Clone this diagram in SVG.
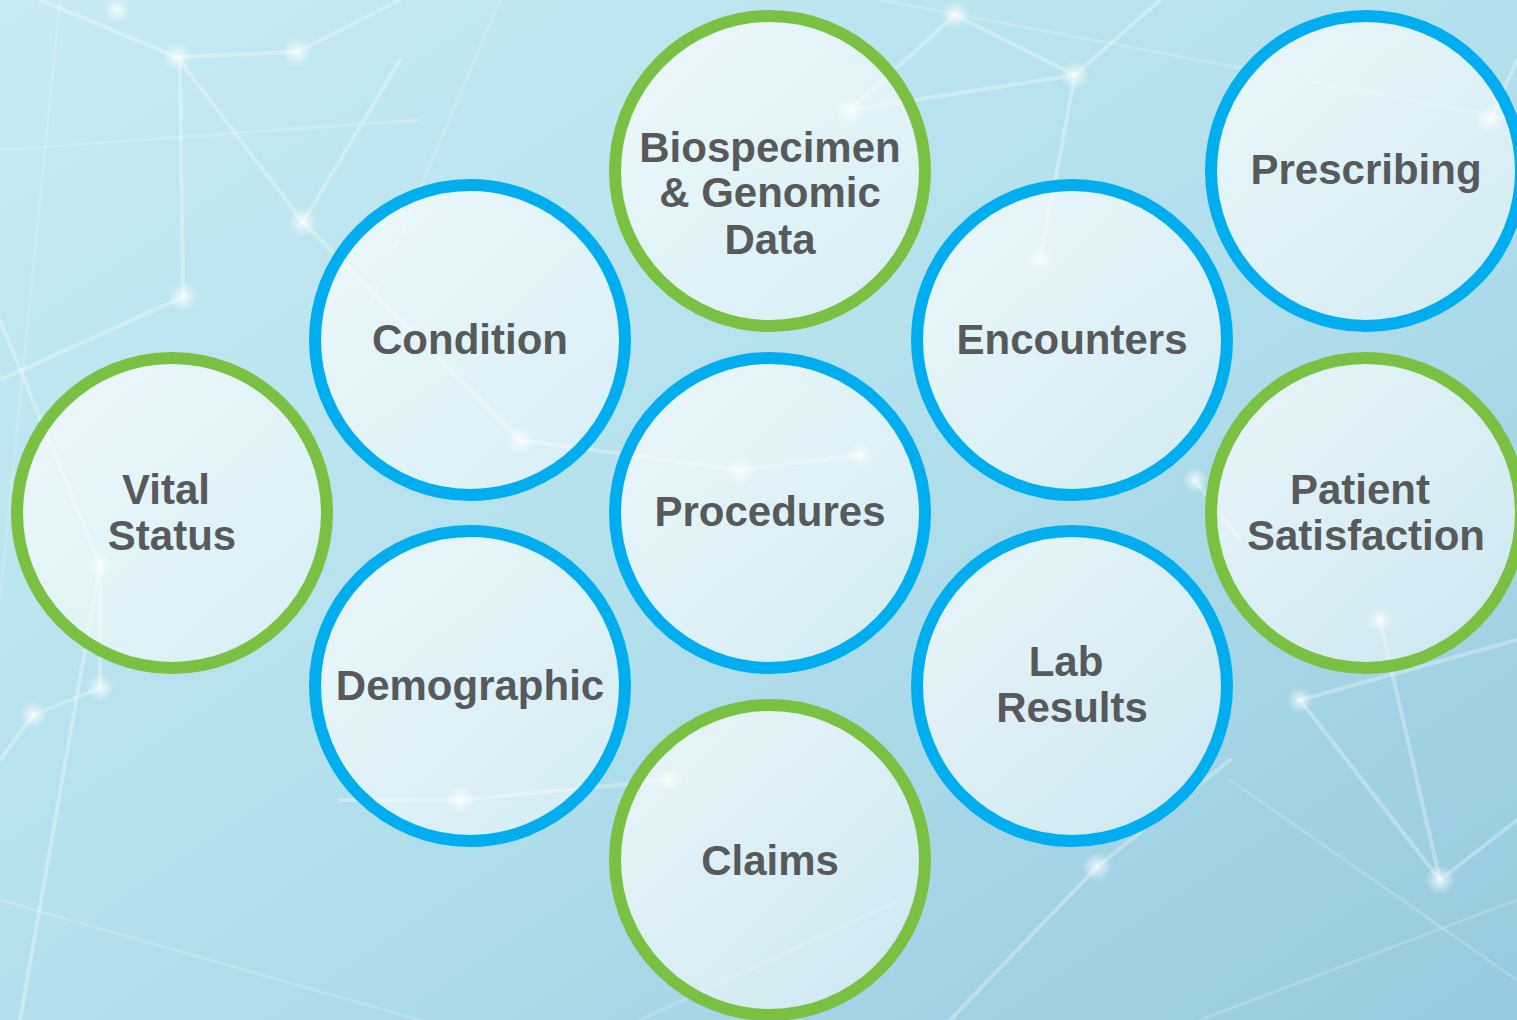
<svg xmlns="http://www.w3.org/2000/svg" width="1517" height="1020" viewBox="0 0 1517 1020">
<defs>
<linearGradient id="bg" x1="0" y1="0" x2="1" y2="1">
<stop offset="0" stop-color="#c6ebf3"/>
<stop offset="0.5" stop-color="#b3e0ec"/>
<stop offset="1" stop-color="#97cadf"/>
</linearGradient>
<linearGradient id="cf" x1="0" y1="0" x2="1" y2="1">
<stop offset="0" stop-color="#ffffff" stop-opacity="0.72"/>
<stop offset="1" stop-color="#ffffff" stop-opacity="0.45"/>
</linearGradient>
<radialGradient id="dot">
<stop offset="0" stop-color="#ffffff" stop-opacity="0.75"/>
<stop offset="1" stop-color="#ffffff" stop-opacity="0"/>
</radialGradient>
<style>
.net line{stroke:#ffffff;stroke-opacity:0.3;stroke-width:4;stroke-linecap:round}
.net .thin{stroke-opacity:0.18;stroke-width:3}
.net circle{fill:url(#dot)}
.node circle{fill:url(#cf);stroke-width:12}
.g circle{stroke:#7ac143}
.b circle{stroke:#00aeef}
.node text{font-family:"Liberation Sans",Arial,sans-serif;font-weight:bold;font-size:42px;fill:#58595b;text-anchor:middle}
</style>
</defs>
<rect width="1517" height="1020" fill="url(#bg)"/>
<g class="net">
<line x1="40" y1="0" x2="177" y2="57"/>
<line x1="177" y1="57" x2="297" y2="52"/>
<line x1="177" y1="57" x2="303" y2="222"/>
<line x1="303" y1="222" x2="520" y2="440"/>
<line x1="297" y1="52" x2="400" y2="0"/>
<line x1="303" y1="222" x2="400" y2="60"/>
<line x1="180" y1="57" x2="183" y2="297"/>
<line x1="183" y1="297" x2="0" y2="380"/>
<line x1="520" y1="440" x2="740" y2="470"/>
<line x1="740" y1="470" x2="860" y2="455"/>
<line x1="850" y1="110" x2="955" y2="15"/>
<line x1="955" y1="15" x2="1075" y2="75"/>
<line x1="1075" y1="75" x2="1040" y2="260"/>
<line x1="1075" y1="75" x2="1160" y2="0"/>
<line x1="850" y1="110" x2="1075" y2="75"/>
<line x1="100" y1="688" x2="33" y2="715"/>
<line x1="100" y1="688" x2="100" y2="565"/>
<line x1="100" y1="565" x2="0" y2="320"/>
<line x1="33" y1="715" x2="0" y2="760"/>
<line x1="100" y1="565" x2="20" y2="1020"/>
<line x1="460" y1="800" x2="340" y2="800"/>
<line x1="460" y1="800" x2="670" y2="780"/>
<line x1="1440" y1="880" x2="1300" y2="700"/>
<line x1="1440" y1="880" x2="1380" y2="620"/>
<line x1="1440" y1="880" x2="1517" y2="820"/>
<line x1="1097" y1="867" x2="950" y2="1020"/>
<line x1="1097" y1="867" x2="1230" y2="760"/>
<line x1="1300" y1="700" x2="1517" y2="640"/>
<line x1="1490" y1="120" x2="1517" y2="60"/>
<line x1="1195" y1="480" x2="1240" y2="540"/>
<line class="thin" x1="0" y1="150" x2="420" y2="120"/>
<line class="thin" x1="60" y1="0" x2="0" y2="600"/>
<line class="thin" x1="500" y1="0" x2="360" y2="330"/>
<line class="thin" x1="0" y1="900" x2="420" y2="1020"/>
<line class="thin" x1="1200" y1="1020" x2="1517" y2="900"/>
<line class="thin" x1="1230" y1="780" x2="1517" y2="980"/>
<line class="thin" x1="640" y1="1020" x2="900" y2="900"/>
<line class="thin" x1="880" y1="0" x2="1517" y2="120"/>
<circle cx="177" cy="57" r="15"/>
<circle cx="297" cy="52" r="15"/>
<circle cx="303" cy="222" r="15"/>
<circle cx="183" cy="297" r="15"/>
<circle cx="117" cy="10" r="13"/>
<circle cx="520" cy="440" r="15"/>
<circle cx="740" cy="470" r="15"/>
<circle cx="860" cy="455" r="13"/>
<circle cx="850" cy="110" r="15"/>
<circle cx="955" cy="15" r="15"/>
<circle cx="1075" cy="75" r="15"/>
<circle cx="1040" cy="260" r="13"/>
<circle cx="100" cy="688" r="14"/>
<circle cx="33" cy="715" r="14"/>
<circle cx="100" cy="565" r="13"/>
<circle cx="460" cy="800" r="15"/>
<circle cx="670" cy="780" r="13"/>
<circle cx="1440" cy="880" r="15"/>
<circle cx="1097" cy="867" r="15"/>
<circle cx="1490" cy="120" r="15"/>
<circle cx="1195" cy="480" r="13"/>
<circle cx="1300" cy="700" r="13"/>
<circle cx="1380" cy="620" r="13"/>
</g>
<g id="node-biospecimen" class="node g">
<circle cx="770" cy="171" r="155"/>
<text x="770" y="162">Biospecimen</text>
<text x="770" y="207">&amp; Genomic</text>
<text x="770" y="254">Data</text>
</g>
<g id="node-condition" class="node b">
<circle cx="470" cy="340" r="155"/>
<text x="470" y="354">Condition</text>
</g>
<g id="node-vital-status" class="node g">
<circle cx="172" cy="513" r="155"/>
<text x="166" y="504">Vital</text>
<text x="172" y="550">Status</text>
</g>
<g id="node-procedures" class="node b">
<circle cx="770" cy="513" r="155"/>
<text x="770" y="526">Procedures</text>
</g>
<g id="node-demographic" class="node b">
<circle cx="470" cy="686" r="155"/>
<text x="470" y="700">Demographic</text>
</g>
<g id="node-claims" class="node g">
<circle cx="770" cy="860" r="155"/>
<text x="770" y="875">Claims</text>
</g>
<g id="node-encounters" class="node b">
<circle cx="1072" cy="340" r="155"/>
<text x="1072" y="354">Encounters</text>
</g>
<g id="node-lab-results" class="node b">
<circle cx="1072" cy="686" r="155"/>
<text x="1066" y="676">Lab</text>
<text x="1072" y="722">Results</text>
</g>
<g id="node-prescribing" class="node b">
<circle cx="1366" cy="171" r="155"/>
<text x="1366" y="184">Prescribing</text>
</g>
<g id="node-patient-satisfaction" class="node g">
<circle cx="1366" cy="513" r="155"/>
<text x="1360" y="504">Patient</text>
<text x="1366" y="550">Satisfaction</text>
</g>
<g id="connectors"/>
</svg>
